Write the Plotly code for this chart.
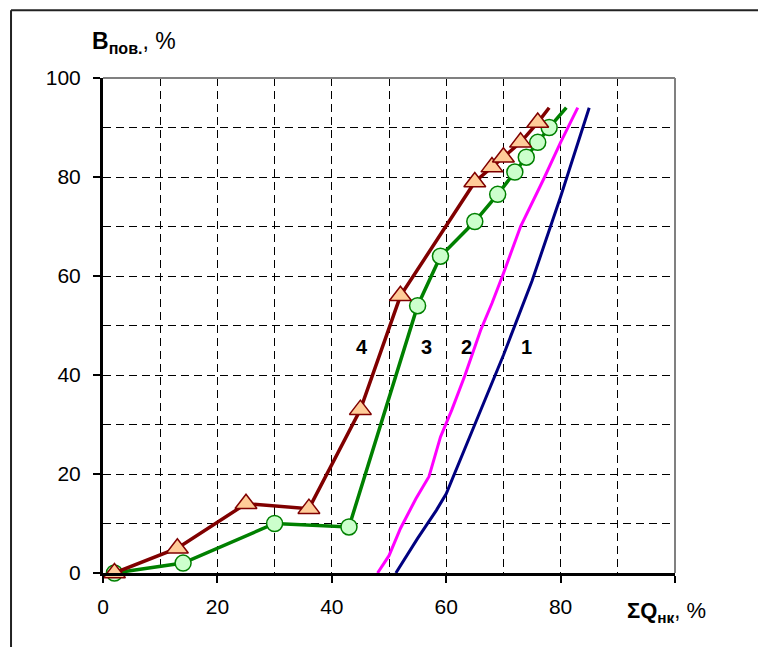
import plotly.graph_objects as go

# Curve 1 (navy, no markers)
x1 = [51.2, 55, 58.3, 60, 65, 70, 75, 80, 85]
y1 = [0, 7, 12.7, 16, 30, 44, 59, 76, 94]

# Curve 2 (magenta, no markers)
x2 = [48, 50, 52, 54.7, 57, 59, 61, 63.3, 66, 68, 70, 73, 77, 80, 83]
y2 = [0, 3.5, 9, 15, 19.5, 27.5, 33, 40, 49, 54.5, 60.5, 70, 79.5, 87, 94]

# Curve 3 (green, circles) - last point is the line end without a marker
x3 = [2, 14, 30, 43, 55, 59, 65, 69, 72, 74, 76, 78, 81]
y3 = [0, 2, 10, 9.3, 54, 64, 71, 76.5, 81, 84, 87, 90, 94]

# Curve 4 (dark red, triangles) - last point is the line end without a marker
x4 = [2, 13, 25, 36, 45, 52, 65, 68, 70, 73, 76, 78]
y4 = [0, 5, 14, 13, 33, 56, 79, 82, 84, 87, 91, 94]

curve_labels = ["1", "2", "3", "4"]
label_x = [74.1, 63.5, 56.5, 45.2]
label_y = [45.7, 45.7, 45.7, 45.7]

x_ticks = [0, 20, 40, 60, 80, 100]
x_ticktext = ["0", "20", "40", "60", "80", " "]
y_ticks = [0, 20, 40, 60, 80, 100]

FONT = "Liberation Sans, Arial, sans-serif"
GRID_DASH = "8px,5px"

fig = go.Figure()

fig.add_trace(go.Scatter(x=x1, y=y1, mode="lines",
                         line=dict(color="#000080", width=3), showlegend=False))
fig.add_trace(go.Scatter(x=x2, y=y2, mode="lines",
                         line=dict(color="#FF00FF", width=3), showlegend=False))
fig.add_trace(go.Scatter(
    x=x3, y=y3, mode="lines+markers", cliponaxis=False,
    line=dict(color="#008000", width=3.5),
    marker=dict(symbol="circle", size=16, color="#CCFFCC",
                line=dict(color="#008000", width=1.5),
                opacity=[1] * (len(x3) - 1) + [0]),
    showlegend=False))
fig.add_trace(go.Scatter(
    x=x4, y=y4, mode="lines+markers", cliponaxis=False,
    line=dict(color="#800000", width=3.5),
    marker=dict(symbol="triangle-up", size=19, color="#FFCC99",
                line=dict(color="#800000", width=1.5),
                opacity=[1] * (len(x4) - 1) + [0]),
    showlegend=False))

for t, lx, ly in zip(curve_labels, label_x, label_y):
    fig.add_annotation(x=lx, y=ly, xref="x", yref="y", text="<b>%s</b>" % t,
                       showarrow=False, font=dict(family=FONT, size=20, color="black"))

# axis titles
fig.add_annotation(xref="paper", yref="paper", x=-0.0227, y=1.0727,
                   xanchor="left", yanchor="middle", showarrow=False,
                   text="<b>B</b><b><sub>пов.</sub></b>, %",
                   font=dict(family=FONT, size=23, color="black"))
fig.add_annotation(xref="paper", yref="paper", x=0.9126, y=-0.0788,
                   xanchor="left", yanchor="middle", showarrow=False,
                   text="<b>ΣQ</b><b><sub>нк</sub></b>, %",
                   font=dict(family=FONT, size=22, color="black"))

# gray top/right border of the plot area
fig.add_shape(type="line", xref="x domain", yref="y domain", x0=0, x1=1, y0=1, y1=1,
              line=dict(color="#808080", width=2), layer="above")
fig.add_shape(type="line", xref="x domain", yref="y domain", x0=1, x1=1, y0=0, y1=1,
              line=dict(color="#808080", width=2), layer="above")

# outer frame around the chart
fig.add_shape(type="line", xref="paper", yref="paper", x0=-0.1608, x1=1.3, y0=1.137, y1=1.137,
              line=dict(color="#222222", width=2), layer="above")
fig.add_shape(type="line", xref="paper", yref="paper", x0=-0.1608, x1=-0.1608, y0=-0.3, y1=1.137,
              line=dict(color="#222222", width=2), layer="above")

axis_common = dict(
    showline=True, linecolor="black", linewidth=3,
    ticks="outside", ticklen=7, tickwidth=2, tickcolor="black",
    showgrid=True, gridcolor="black", gridwidth=1, griddash=GRID_DASH,
    zeroline=False,
    tickfont=dict(family=FONT, size=21, color="black"),
)

fig.update_xaxes(range=[0, 100], tickmode="array", tickvals=x_ticks, ticktext=x_ticktext,
                 minor=dict(dtick=10, tick0=0, showgrid=True, gridcolor="black",
                            gridwidth=1, griddash=GRID_DASH, ticks=""),
                 ticklabelstandoff=6, **axis_common)
fig.update_yaxes(range=[0, 100], tickmode="array", tickvals=y_ticks,
                 minor=dict(dtick=10, tick0=0, showgrid=True, gridcolor="black",
                            gridwidth=1, griddash=GRID_DASH, ticks=""),
                 ticklabelstandoff=8, **axis_common)

fig.update_layout(
    width=758, height=647, autosize=False,
    margin=dict(l=103, r=83, t=78, b=74),
    paper_bgcolor="white", plot_bgcolor="white",
    font=dict(family=FONT, color="black"),
)

fig.write_html("out.html")
